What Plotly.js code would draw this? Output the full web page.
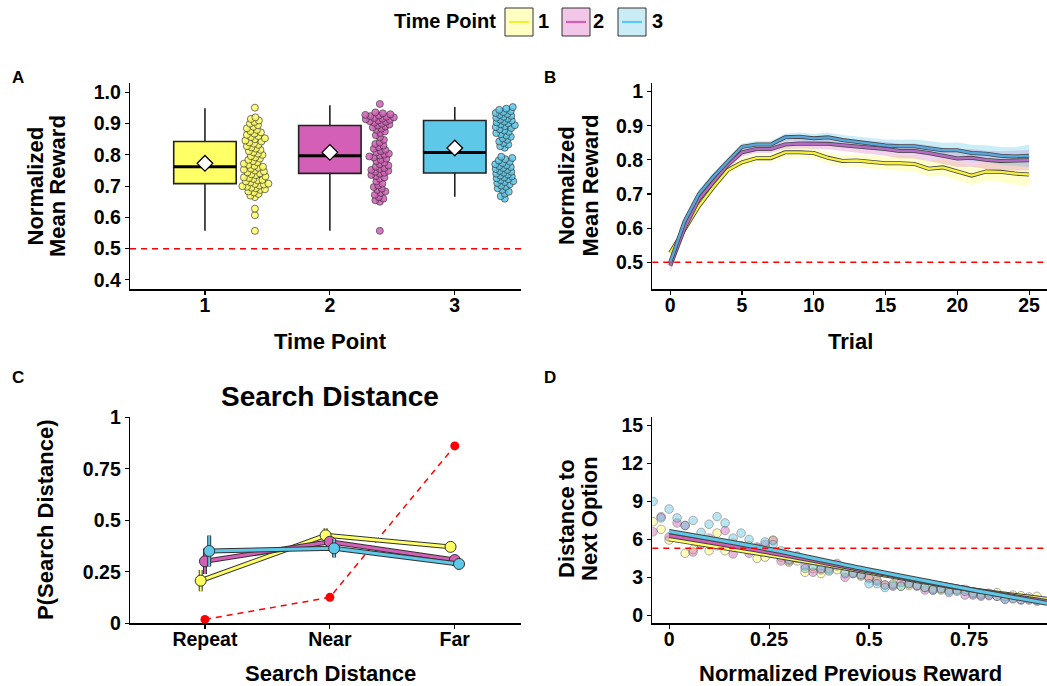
<!DOCTYPE html>
<html><head><meta charset="utf-8">
<script src="https://cdn.plot.ly/plotly-3.0.1.min.js"></script>
<style>body{margin:0;background:#fff}#chart{width:1047px;height:686px}</style>
</head><body><div id="chart"></div>
<script>
// ---------- DATA ----------
const timePoints = [1, 2, 3];
const tpLabels = ['1', '2', '3'];
const colors = ['#FFFF66', '#D35FB7', '#5EC8E8'];
const lightColors = ['#FFFFC4', '#F1C6E8', '#C9ECF7'];
const lineColorsB = ['#F7F03C', '#B46CC2', '#58A6DA'];

// Panel A: box statistics
const boxQ1 = [0.708, 0.741, 0.742];
const boxMedian = [0.762, 0.797, 0.808];
const boxQ3 = [0.843, 0.894, 0.910];
const boxLow = [0.557, 0.557, 0.666];
const boxHigh = [0.949, 0.959, 0.953];
const boxMean = [0.773, 0.808, 0.822];

// Panel A: participant rewards
const rewardsTP1 = [0.557,0.607,0.628,0.665,0.670,0.675,0.680,0.683,0.688,0.690,0.693,0.695,0.698,0.700,0.702,0.705,0.707,0.708,0.712,0.715,0.718,0.720,0.723,0.726,0.728,0.731,0.735,0.738,0.741,0.744,0.747,0.750,0.753,0.756,0.759,0.762,0.765,0.768,0.772,0.776,0.780,0.784,0.788,0.792,0.796,0.800,0.804,0.808,0.812,0.816,0.820,0.824,0.828,0.832,0.836,0.840,0.843,0.846,0.850,0.853,0.857,0.860,0.864,0.868,0.872,0.876,0.880,0.885,0.890,0.895,0.900,0.905,0.910,0.915,0.920,0.951];
const rewardsTP2 = [0.557,0.650,0.655,0.660,0.665,0.672,0.678,0.683,0.688,0.692,0.697,0.702,0.708,0.715,0.724,0.728,0.732,0.736,0.740,0.743,0.746,0.749,0.752,0.755,0.758,0.762,0.766,0.770,0.775,0.780,0.784,0.788,0.792,0.795,0.798,0.801,0.804,0.808,0.812,0.816,0.820,0.825,0.830,0.835,0.840,0.848,0.856,0.863,0.870,0.875,0.880,0.884,0.888,0.891,0.894,0.897,0.900,0.903,0.906,0.908,0.910,0.912,0.914,0.916,0.918,0.920,0.922,0.924,0.926,0.928,0.930,0.933,0.936,0.963];
const rewardsTP3 = [0.660,0.668,0.676,0.682,0.688,0.693,0.698,0.702,0.706,0.710,0.713,0.716,0.719,0.722,0.725,0.728,0.731,0.734,0.737,0.740,0.743,0.746,0.749,0.752,0.755,0.758,0.761,0.764,0.767,0.770,0.774,0.778,0.782,0.786,0.790,0.794,0.823,0.828,0.833,0.838,0.843,0.848,0.853,0.858,0.862,0.866,0.870,0.874,0.878,0.882,0.886,0.889,0.892,0.895,0.898,0.901,0.904,0.907,0.910,0.913,0.916,0.919,0.922,0.925,0.928,0.931,0.934,0.937,0.940,0.944,0.948,0.953];

// Panel B: learning curves
const trials = [0,1,2,3,4,5,6,7,8,9,10,11,12,13,14,15,16,17,18,19,20,21,22,23,24,25];
const curveTP1 = [0.528,0.595,0.665,0.720,0.770,0.793,0.805,0.805,0.822,0.822,0.820,0.806,0.797,0.798,0.794,0.790,0.790,0.788,0.774,0.778,0.766,0.754,0.766,0.765,0.760,0.757];
const curveTP2 = [0.490,0.600,0.685,0.735,0.785,0.822,0.832,0.832,0.845,0.848,0.847,0.847,0.843,0.840,0.837,0.832,0.826,0.826,0.820,0.812,0.804,0.806,0.800,0.797,0.797,0.799];
const curveTP3 = [0.500,0.620,0.700,0.750,0.795,0.838,0.845,0.845,0.866,0.868,0.863,0.866,0.858,0.852,0.846,0.842,0.840,0.840,0.834,0.828,0.828,0.820,0.818,0.812,0.810,0.812];
const ciTP1 = [0.015,0.014,0.013,0.013,0.013,0.013,0.013,0.013,0.014,0.014,0.015,0.016,0.017,0.018,0.019,0.020,0.021,0.022,0.023,0.024,0.026,0.027,0.028,0.030,0.032,0.034];
const ciTP2 = [0.020,0.014,0.013,0.012,0.012,0.012,0.012,0.012,0.013,0.014,0.015,0.016,0.017,0.018,0.019,0.020,0.021,0.022,0.023,0.024,0.025,0.026,0.027,0.028,0.029,0.030];
const ciTP3 = [0.015,0.014,0.013,0.012,0.012,0.010,0.010,0.010,0.011,0.012,0.013,0.014,0.015,0.016,0.017,0.018,0.019,0.020,0.021,0.022,0.023,0.024,0.025,0.026,0.027,0.033];

// Panel C: search distance
const distCats = ['Repeat', 'Near', 'Far'];
const distPos = [1, 2, 3];
const pDistTP1 = [0.207, 0.427, 0.371];
const pDistTP2 = [0.301, 0.396, 0.307];
const pDistTP3 = [0.351, 0.364, 0.288];
const errTP1 = [0.052, 0.035, 0.015];
const errTP2 = [0.062, 0.020, 0.020];
const errTP3 = [0.075, 0.045, 0.015];
const pDistRandom = [0.019, 0.126, 0.861];

// Panel D: distance vs previous reward
const prevReward = [-0.04,-0.02,0,0.02,0.04,0.06,0.08,0.10,0.12,0.14,0.16,0.18,0.20,0.22,0.24,0.26,0.28,0.30,0.32,0.34,0.36,0.38,0.40,0.42,0.44,0.46,0.48,0.50,0.52,0.54,0.56,0.58,0.60,0.62,0.64,0.66,0.68,0.70,0.72,0.74,0.76,0.78,0.80,0.82,0.84,0.86,0.88,0.90,0.92];
const distTP1 = [7.4,6.8,5.95,6.2,4.9,5.2,5.6,5.1,6.5,5.1,5.7,5.4,5.5,4.5,4.6,5.95,4.6,4.2,4.3,3.4,3.7,3.3,3.6,3.6,3.4,3.4,3.1,3.0,2.8,2.4,2.5,2.3,2.35,2.4,2.2,2.1,2.0,2.0,2.0,2.05,1.8,1.7,1.75,1.8,1.5,1.6,1.55,1.45,1.5];
const distTP2 = [6.6,7.8,6.2,7.3,7.1,5.0,5.6,6.1,5.5,6.7,4.85,5.5,4.9,5.4,5.6,5.9,4.3,4.3,4.5,3.9,3.4,3.6,3.7,4.1,3.0,3.3,3.2,2.9,2.7,2.4,2.3,2.6,2.5,2.3,2.0,2.0,2.1,1.9,2.0,1.6,1.6,1.5,1.55,1.5,1.3,1.35,1.2,1.2,1.1];
const distTP3 = [9.0,7.7,8.4,7.7,7.1,7.5,6.55,7.2,7.8,7.3,6.1,6.5,6.0,5.3,5.8,5.6,5.1,4.4,4.7,3.7,3.9,3.7,3.5,3.9,3.3,3.3,3.2,2.5,2.5,2.2,2.4,2.3,2.5,2.35,2.2,2.0,2.1,1.8,1.9,1.9,1.7,1.6,1.6,1.5,1.25,1.3,1.25,1.3,1.2];
const fitX = [0, 0.25, 0.5, 0.75, 0.945];
const fitTP1 = [6.04, 4.77, 3.40, 2.06, 1.27];
const fitTP2 = [6.30, 4.98, 3.50, 2.06, 1.10];
const fitTP3 = [6.62, 5.22, 3.59, 2.06, 0.95];
const randomDistance = 5.3;
const chanceReward = 0.5;

// ---------- LAYOUT HELPERS ----------
const W = 1047, H = 686;
const FONT = 'Liberation Sans, Arial, Helvetica, sans-serif';
const px = v => v / W, py = v => 1 - v / H;
const dom = {
  ax: [px(130), px(521)], bx: [px(652.3), 1],
  top: [py(289.3), py(82.7)], bot: [py(623.3), py(417.3)]
};
const ranges = { ax: [0.4, 3.53], ay: [0.37, 1.031], bx: [-1.25, 26.25], by: [0.421, 1.026],
  cx: [0.4, 3.53], cy: [0, 1.0], dx: [-0.042, 0.945], dy: [-0.63, 15.65] };

function swarm(vals, center, pxPerX, pxPerY, d) {
  const order = vals.map((v, i) => i).sort((a, b) => vals[a] - vals[b]);
  const placed = [], xs = new Array(vals.length);
  for (const i of order) {
    const y = vals[i] * pxPerY;
    let best = 0;
    for (let k = 0; k < 400; k++) {
      const off = (k % 2 === 0 ? 1 : -1) * Math.ceil(k / 2) * 0.5;
      let ok = true;
      for (const p of placed) {
        if (Math.abs(p.y - y) < d && Math.hypot(p.x - off, p.y - y) < d) { ok = false; break; }
      }
      if (ok) { best = off; break; }
    }
    placed.push({ x: best, y });
    xs[i] = center + best / pxPerX;
  }
  return xs;
}

const traces = [];
// ---------- PANEL A ----------
const pxPerXA = (521 - 130) / (ranges.ax[1] - ranges.ax[0]);
const pxPerYA = (289.3 - 82.7) / (ranges.ay[1] - ranges.ay[0]);
const rewardsAll = [rewardsTP1, rewardsTP2, rewardsTP3];
timePoints.forEach((tp, i) => {
  traces.push({ type: 'box', x: [tp], q1: [boxQ1[i]], median: [boxMedian[i]], q3: [boxQ3[i]],
    lowerfence: [boxLow[i]], upperfence: [boxHigh[i]], width: 0.5, whiskerwidth: 0,
    fillcolor: colors[i], line: { color: '#222', width: 1.6 }, boxpoints: false,
    hoverinfo: 'skip', showlegend: false, xaxis: 'x', yaxis: 'y' });
  traces.push({ type: 'scatter', mode: 'lines', x: [tp - 0.25, tp + 0.25], y: [boxMedian[i], boxMedian[i]],
    line: { color: '#000', width: 3 }, showlegend: false, hoverinfo: 'skip', xaxis: 'x', yaxis: 'y' });
  const xs = swarm(rewardsAll[i], tp + 0.4, pxPerXA, pxPerYA, 4.4);
  traces.push({ type: 'scatter', mode: 'markers', x: xs, y: rewardsAll[i],
    marker: { size: 7, color: colors[i], opacity: 0.85, line: { color: '#333', width: 0.8 } },
    showlegend: false, hoverinfo: 'skip', xaxis: 'x', yaxis: 'y' });
});
traces.push({ type: 'scatter', mode: 'markers', x: timePoints, y: boxMean,
  marker: { symbol: 'diamond', size: 12, color: '#fff', line: { color: '#000', width: 1.3 } },
  showlegend: false, hoverinfo: 'skip', xaxis: 'x', yaxis: 'y' });

// ---------- PANEL B ----------
const curves = [curveTP1, curveTP2, curveTP3];
const cis = [ciTP1, ciTP2, ciTP3];
const ribbonFill = ['rgba(255,255,90,0.30)', 'rgba(211,95,183,0.28)', 'rgba(94,200,232,0.32)'];
curves.forEach((c, i) => {
  traces.push({ type: 'scatter', mode: 'lines', x: trials, y: c.map((v, k) => v - cis[i][k]),
    line: { width: 0, color: 'rgba(0,0,0,0)' }, showlegend: false, hoverinfo: 'skip', xaxis: 'x2', yaxis: 'y2' });
  traces.push({ type: 'scatter', mode: 'lines', x: trials, y: c.map((v, k) => v + cis[i][k]),
    fill: 'tonexty', fillcolor: ribbonFill[i], line: { width: 0, color: 'rgba(0,0,0,0)' },
    showlegend: false, hoverinfo: 'skip', xaxis: 'x2', yaxis: 'y2' });
});
curves.forEach((c, i) => {
  traces.push({ type: 'scatter', mode: 'lines', x: trials, y: c, line: { color: '#444', width: 4 },
    showlegend: false, hoverinfo: 'skip', xaxis: 'x2', yaxis: 'y2' });
  traces.push({ type: 'scatter', mode: 'lines', x: trials, y: c, line: { color: lineColorsB[i], width: 2.4 },
    showlegend: false, hoverinfo: 'skip', xaxis: 'x2', yaxis: 'y2' });
});

// ---------- PANEL C ----------
const pDist = [pDistTP1, pDistTP2, pDistTP3];
const errs = [errTP1, errTP2, errTP3];
const dodge = [-0.034, 0, 0.034];
traces.push({ type: 'scatter', mode: 'lines+markers', x: distPos, y: pDistRandom,
  line: { color: '#FF0000', width: 1.5, dash: '6px,5px' }, marker: { color: '#FF0000', size: 9 },
  cliponaxis: false, showlegend: false, hoverinfo: 'skip', xaxis: 'x3', yaxis: 'y3' });
pDist.forEach((p, i) => {
  const xs = distPos.map(v => v + dodge[i]);
  traces.push({ type: 'scatter', mode: 'lines', x: xs, y: p, line: { color: '#333', width: 5 },
    error_y: { type: 'data', array: errs[i], color: '#333', thickness: 4, width: 0 },
    cliponaxis: false, showlegend: false, hoverinfo: 'skip', xaxis: 'x3', yaxis: 'y3' });
  traces.push({ type: 'scatter', mode: 'lines+markers', x: xs, y: p, line: { color: colors[i], width: 3 },
    error_y: { type: 'data', array: errs[i], color: colors[i], thickness: 2, width: 0 },
    marker: { size: 11, color: colors[i], line: { color: '#333', width: 1 } },
    cliponaxis: false, showlegend: false, hoverinfo: 'skip', xaxis: 'x3', yaxis: 'y3' });
});

// ---------- PANEL D ----------
const dists = [distTP1, distTP2, distTP3];
dists.forEach((d, i) => {
  traces.push({ type: 'scatter', mode: 'markers', x: prevReward, y: d,
    marker: { size: 8.5, color: colors[i], opacity: 0.45, line: { color: '#444', width: 1 } },
    showlegend: false, hoverinfo: 'skip', xaxis: 'x4', yaxis: 'y4' });
});
const fits = [fitTP1, fitTP2, fitTP3];
fits.forEach((f, i) => {
  traces.push({ type: 'scatter', mode: 'lines', x: fitX, y: f, line: { color: '#444', width: 5, shape: 'spline' },
    showlegend: false, hoverinfo: 'skip', xaxis: 'x4', yaxis: 'y4' });
  traces.push({ type: 'scatter', mode: 'lines', x: fitX, y: f, line: { color: colors[i], width: 3, shape: 'spline' },
    showlegend: false, hoverinfo: 'skip', xaxis: 'x4', yaxis: 'y4' });
});

// ---------- AXES ----------
const tickfont = { family: FONT, size: 19.5, color: '#000', weight: 'bold' };
function axis(domain, range, extra) {
  return Object.assign({ domain, range, showgrid: false, zeroline: false, showline: true,
    linecolor: '#000', linewidth: 1.3, ticks: 'outside', ticklen: 4, tickwidth: 1.1, tickcolor: '#000',
    tickfont, fixedrange: true }, extra);
}
const xExtra = { ticklabelstandoff: -6 };
const redShape = (xref, yref, y) => ({ type: 'line', xref: xref + ' domain', yref, x0: 0, x1: 1, y0: y, y1: y,
  line: { color: '#FF0000', width: 1.5, dash: '6px,5px' } });

const ann = (text, x, y, size, extra) => Object.assign({ text: '<b>' + text + '</b>', x: px(x), y: py(y),
  xref: 'paper', yref: 'paper', showarrow: false, xanchor: 'center', yanchor: 'middle',
  font: { family: FONT, size, color: '#000' } }, extra || {});

const annotations = [
  ann('A', 17.5, 77, 17), ann('B', 550, 77, 17), ann('C', 17.5, 377, 17), ann('D', 550, 377, 17),
  ann('Normalized', 34.5, 186, 22, { textangle: -90 }), ann('Mean Reward', 57, 186, 22, { textangle: -90 }),
  ann('Normalized', 566, 186, 22, { textangle: -90 }), ann('Mean Reward', 589.5, 186, 22, { textangle: -90 }),
  ann('P(Search Distance)', 45, 520, 22, { textangle: -90 }),
  ann('Distance to', 566, 519, 22, { textangle: -90 }), ann('Next Option', 589, 519, 22, { textangle: -90 }),
  ann('Time Point', 330, 342, 22), ann('Trial', 850, 342, 22),
  ann('Search Distance', 330, 673, 22), ann('Normalized Previous Reward', 850, 673, 22),
  ann('Search Distance', 330, 396, 28),
  ann('Time Point', 445, 21.5, 20)
];
// manual legend
const legendBoxX = [505, 562, 618];
const legendTextX = [543, 598, 657];
const shapes = [redShape('x', 'y', chanceReward), redShape('x2', 'y2', chanceReward), redShape('x4', 'y4', randomDistance)];
timePoints.forEach((tp, i) => {
  shapes.push({ type: 'rect', xref: 'paper', yref: 'paper', x0: px(legendBoxX[i]), x1: px(legendBoxX[i] + 28),
    y0: py(36), y1: py(8), fillcolor: lightColors[i], line: { color: '#333', width: 1 } });
  shapes.push({ type: 'line', xref: 'paper', yref: 'paper', x0: px(legendBoxX[i] + 4), x1: px(legendBoxX[i] + 24),
    y0: py(22), y1: py(22), line: { color: colors[i] === '#FFFF66' ? '#F2EE3A' : colors[i], width: 2.2 } });
  annotations.push(ann(tpLabels[i], legendTextX[i], 21.5, 20));
});

const layout = {
  width: W, height: H, margin: { l: 0, r: 0, t: 0, b: 0 }, paper_bgcolor: '#fff', plot_bgcolor: '#fff',
  font: { family: FONT }, showlegend: false, boxmode: 'overlay',
  xaxis: axis(dom.ax, ranges.ax, Object.assign({ anchor: 'y', tickvals: timePoints, ticktext: tpLabels }, xExtra)),
  yaxis: axis(dom.top, ranges.ay, { anchor: 'x', tickvals: [0.4,0.5,0.6,0.7,0.8,0.9,1.0], tickformat: '.1f' }),
  xaxis2: axis(dom.bx, ranges.bx, Object.assign({ anchor: 'y2', tickvals: [0,5,10,15,20,25] }, xExtra)),
  yaxis2: axis(dom.top, ranges.by, { anchor: 'x2', tickvals: [0.5,0.6,0.7,0.8,0.9,1], ticktext: ['0.5','0.6','0.7','0.8','0.9','1'] }),
  xaxis3: axis(dom.ax, ranges.cx, Object.assign({ anchor: 'y3', tickvals: distPos, ticktext: distCats }, xExtra)),
  yaxis3: axis(dom.bot, ranges.cy, { anchor: 'x3', tickvals: [0,0.25,0.5,0.75,1], ticktext: ['0','0.25','0.5','0.75','1'] }),
  xaxis4: axis(dom.bx, ranges.dx, Object.assign({ anchor: 'y4', tickvals: [0,0.25,0.5,0.75], ticktext: ['0','0.25','0.5','0.75'] }, xExtra)),
  yaxis4: axis(dom.bot, ranges.dy, { anchor: 'x4', tickvals: [0,3,6,9,12,15] }),
  shapes, annotations
};
Plotly.newPlot('chart', traces, layout, { staticPlot: true, displayModeBar: false });
</script></body></html>
